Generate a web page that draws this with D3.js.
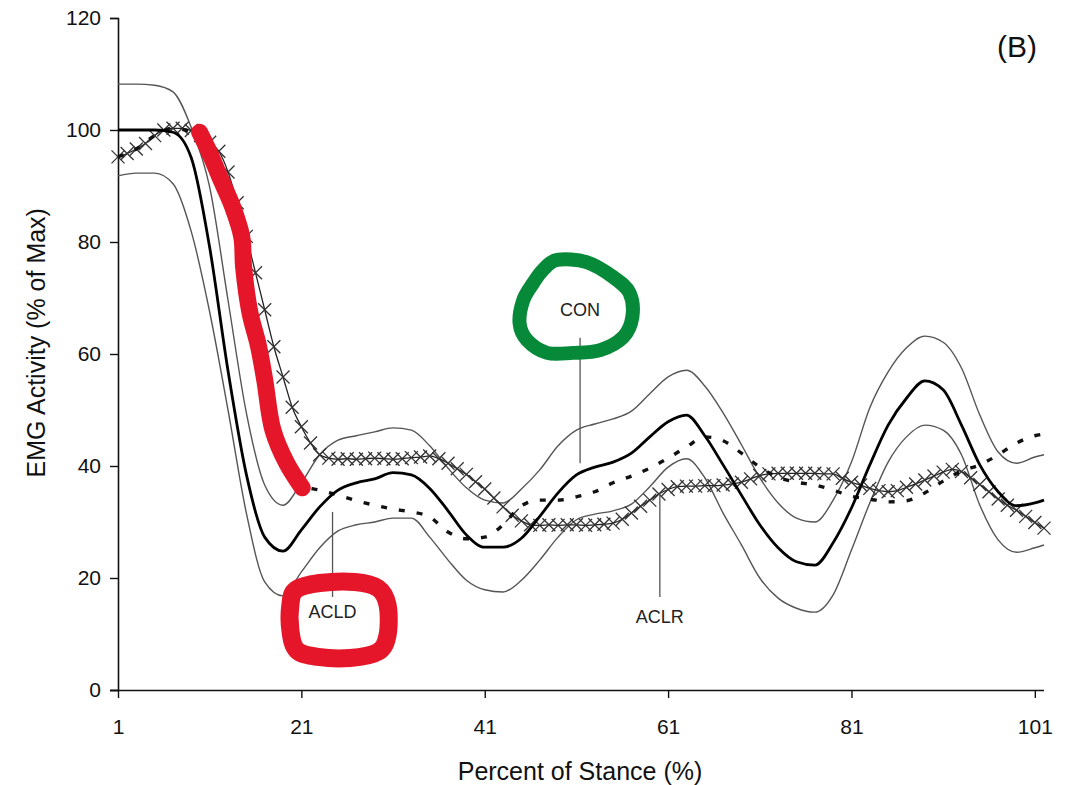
<!DOCTYPE html>
<html>
<head>
<meta charset="utf-8">
<script src="https://cdn.jsdelivr.net/npm/d3@7"></script>
<style>
  body { margin: 0; background: #fff; }
  svg { display: block; font-family: "Liberation Sans", Arial, sans-serif; }
</style>
</head>
<body>
<svg width="1077" height="785"></svg>
<script>
// stance points for the smoothed lines (every 2%)
const stance = [1,3,5,7,9,11,13,15,17,19,21,23,25,27,29,31,33,35,37,39,41,43,45,47,49,51,53,55,57,59,61,63,65,67,69,71,73,75,77,79,81,83,85,87,89,91,93,95,97,99,101,102];

const conMean = [100,100,100,99.6,95,79,57,38.5,27.3,24.8,28.6,32.7,35.7,37,37.7,38.8,38.4,36,32,27.7,25.5,25.5,27.1,31,35.2,38.4,39.8,40.7,42.3,45.2,47.9,49.1,45.4,40.2,34.8,29.5,25.4,22.9,22.3,26.3,32.5,40.2,47.3,52.1,55.2,53.6,47.3,40.2,35.4,32.9,33.4,33.9];
const conUpper = [108.2,108.2,108,106.8,100.4,89.8,69.6,49.5,36.6,33,37,42,44.6,45.4,46.1,46.8,46.4,43.6,39.6,36.1,33.9,33.4,35.9,39.3,43.6,46.4,47.5,48.4,49.8,52.9,55.9,57.1,54.3,49.5,43.8,37.9,33.4,30.7,30,33.9,40.7,50.4,56.8,61.1,63.2,62.1,57.5,49.1,42.5,40.5,41.6,42];
const conLower = [91.8,92.3,92.3,90.4,81.8,67.5,50,31.6,19.3,16.8,21.1,25.4,28.4,29.5,30,30.7,30.7,27.3,23.2,19.6,17.9,17.5,19.6,23.2,27.3,30.4,31.4,32,33.2,36.3,39.8,41.3,37.9,31.6,25.9,20,16.4,14.6,13.9,17,25,33.4,40.7,45.2,47.3,46.4,42,33,26.8,24.6,25.4,25.9];
const acld = [95.2,96.6,99,100.3,99.6,95.5,88,76,55.5,42,36.5,35.7,34.8,33.8,33,32.3,31.8,30.9,28.2,27,27.3,29.5,32.9,33.9,33.9,34.5,35.4,37,38.2,39.6,41.4,43.4,45.2,44.5,42.3,39.8,38,37.1,36.6,35.7,34.6,34.1,33.6,33.8,35.2,37.3,39.1,40.2,42,44.1,45.4,45.7];

// ACLR is drawn with a marker at every 1%
const stanceAclr = d3.range(1, 103);
const aclr = [95.2,95.8,96.6,97.6,99,100,100.3,100.3,99.9,99,97.8,96.2,92.5,87,81,74.5,67.9,61.3,55.9,50.5,47,44.1,42,41.4,41.2,41.3,41.2,41.3,41.4,41.3,41.2,41.3,41.5,41.6,41.8,41.3,40.5,39.5,38.5,37.2,35.9,34.3,32.7,31.2,30.2,29.5,29.4,29.5,29.4,29.5,29.5,29.4,29.5,29.6,29.8,30.5,31.6,32.8,33.9,35,35.8,36.3,36.4,36.4,36.5,36.5,36.6,36.8,37.1,37.7,38.3,38.6,38.7,38.7,38.7,38.7,38.7,38.6,38.6,37.8,37.1,36.6,36,35.6,35.4,35.6,36.2,36.8,37.5,38.2,38.9,39.4,39,37.9,36.7,35.4,34.1,33,32.1,31,29.9,28.9];

const yTicks = [0,20,40,60,80,100,120];
const xTicks = [1,21,41,61,81,101];

// hand-drawn highlights (in data units)
const redStroke = [[9.9,99.6],[11,95.9],[12.1,91.6],[13.5,86.3],[14.5,80.9],[14.7,75.5],[15.4,67.3],[16.3,61.6],[17,55.4],[17.9,46.4],[19.4,40.5],[21.1,36.1]];
const redLoop = [[20.4,17.9],[23,19.1],[26.8,19.3],[29.35,18.2],[30.4,15.2],[30.4,9.8],[29.35,6.8],[26.3,5.7],[22.8,5.9],[20.5,7.1],[19.8,10.7],[19.8,15.2]];
const greenLoop = [[47.35,75],[48.9,76.8],[52.1,76.4],[55,73.75],[56.8,70.9],[57.1,66.6],[56.1,63],[53.6,60.7],[50.6,60.2],[47.8,60.2],[45.6,62.5],[44.8,65.5],[45.2,69.6],[46.3,72.7]];

const labels = [
  {text: "CON", x: 51.4, y: 67.9, lead: [62.9, 40.5]},
  {text: "ACLD", x: 24.4, y: 13.9, lead: [31.8, 16.6]},
  {text: "ACLR", x: 60.1, y: 13.0, lead: [35.2, 16.6]}
];

const svg = d3.select("svg");
const x = d3.scaleLinear().domain([1, 102]).range([118, 1044]);
const y = d3.scaleLinear().domain([0, 120]).range([690, 18]);

const line = (xs, ys) => d3.line()
  .x((d, i) => x(xs[i]))
  .y(d => y(d))
  .curve(d3.curveMonotoneX)(ys);

// axes
const yAxis = svg.append("g")
  .attr("transform", `translate(${x(1)},0)`)
  .call(d3.axisLeft(y).tickValues(yTicks).tickSize(8).tickPadding(9));
const xAxis = svg.append("g")
  .attr("transform", `translate(0,${y(0)})`)
  .call(d3.axisBottom(x).tickValues(xTicks).tickSize(8).tickPadding(21));
[yAxis, xAxis].forEach(g => {
  g.select(".domain").attr("stroke", "#111").attr("stroke-width", 1.6);
  g.selectAll(".tick line").attr("stroke", "#111").attr("stroke-width", 1.4);
  g.selectAll(".tick text").attr("fill", "#111").style("font-size", "21px")
    .style("font-family", "'Liberation Sans', Arial, sans-serif");
});
xAxis.select(".domain").attr("d", `M${x(1) - 8},0.5H${x(102)}`);

svg.append("text")
  .attr("x", 580).attr("y", 780)
  .attr("text-anchor", "middle")
  .style("font-size", "25px").attr("fill", "#111")
  .text("Percent of Stance (%)");
svg.append("text")
  .attr("transform", `translate(45,${y(62)}) rotate(-90)`)
  .attr("text-anchor", "middle")
  .style("font-size", "25px").attr("fill", "#111")
  .text("EMG Activity (% of Max)");
svg.append("text")
  .attr("x", 1017).attr("y", 57)
  .attr("text-anchor", "middle")
  .style("font-size", "30px").attr("fill", "#111")
  .text("(B)");

// SD bands
[conUpper, conLower].forEach(s => {
  svg.append("path").attr("d", line(stance, s))
    .attr("fill", "none").attr("stroke", "#555").attr("stroke-width", 1.4);
});

// ACLR with x markers
svg.append("path").attr("d", line(stanceAclr, aclr))
  .attr("fill", "none").attr("stroke", "#222").attr("stroke-width", 1.3);
svg.append("g").selectAll("path")
  .data(aclr)
  .join("path")
  .attr("d", (d, i) => {
    const cx = x(stanceAclr[i]), cy = y(d), r = 6.5;
    return `M${cx - r},${cy - r}L${cx + r},${cy + r}M${cx - r},${cy + r}L${cx + r},${cy - r}`;
  })
  .attr("stroke", "#333").attr("stroke-width", 1.3);

// ACLD dashed
svg.append("path").attr("d", line(stance, acld))
  .attr("fill", "none").attr("stroke", "#111").attr("stroke-width", 3.4)
  .attr("stroke-dasharray", "6,12");

// CON mean
svg.append("path").attr("d", line(stance, conMean))
  .attr("fill", "none").attr("stroke", "#000").attr("stroke-width", 2.8);

// callouts
labels.forEach(l => {
  svg.append("line")
    .attr("x1", x(l.x)).attr("x2", x(l.x))
    .attr("y1", y(l.lead[0])).attr("y2", y(l.lead[1]))
    .attr("stroke", "#555").attr("stroke-width", 1.3);
  svg.append("text")
    .attr("x", x(l.x)).attr("y", y(l.y) + 6)
    .attr("text-anchor", "middle")
    .style("font-size", "18px").attr("fill", "#222")
    .text(l.text);
});

// highlighter marks
const pt = d3.line().x(d => x(d[0])).y(d => y(d[1]));
svg.append("path").attr("d", pt.curve(d3.curveCatmullRom)(redStroke))
  .attr("fill", "none").attr("stroke", "#e5162a").attr("stroke-width", 17)
  .attr("stroke-linecap", "round").attr("stroke-linejoin", "round");
svg.append("path").attr("d", pt.curve(d3.curveCardinalClosed)(redLoop))
  .attr("fill", "none").attr("stroke", "#e5162a").attr("stroke-width", 18);
svg.append("path").attr("d", pt.curve(d3.curveCardinalClosed)(greenLoop))
  .attr("fill", "none").attr("stroke", "#07893a").attr("stroke-width", 14);
</script>
</body>
</html>
